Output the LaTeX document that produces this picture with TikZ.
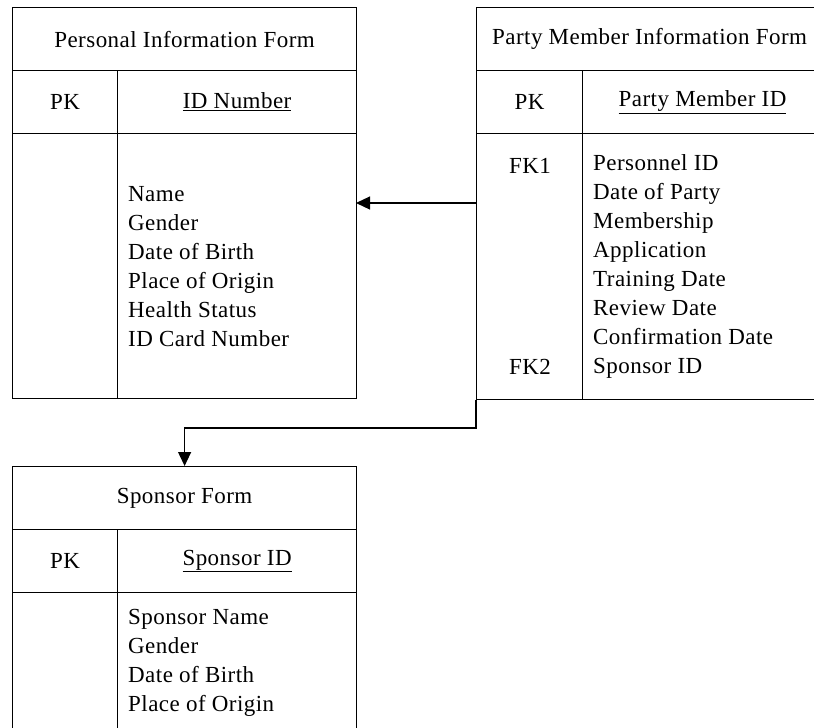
\documentclass[tikz,border=0pt]{standalone}
\usepackage{fontspec}
\setmainfont{Liberation Serif}[LetterSpace=2]
\usetikzlibrary{arrows.meta}
\begin{document}
\begin{tikzpicture}[x=1pt,y=-1pt,
  cell/.style={draw, line width=1.2pt, inner sep=0pt, anchor=north west,
    font=\fontsize{23pt}{29pt}\selectfont},
  txt/.style={inner sep=0pt, align=left, font=\fontsize{23pt}{29pt}\selectfont},
  conn/.style={line width=1.2pt},
  tip/.style={-{Triangle[length=14pt,width=13pt]}}]
\clip (0,0) rectangle (814,728);
% Personal Information Form
\node[cell, minimum width=344pt, minimum height=63pt] (p-head) at (12,7) {Personal Information Form};
\node[cell, minimum width=105pt, minimum height=63pt] (p-pk) at (12,70) {PK};
\node[cell, minimum width=239pt, minimum height=63pt] (p-id) at (117,70) {\underline{ID Number}};
\node[cell, minimum width=105pt, minimum height=265pt] (p-bl) at (12,133) {};
\node[cell, minimum width=239pt, minimum height=265pt] (p-br) at (117,133) {};
\node[txt, anchor=west] (p-attr) at (128,267) {Name\\Gender\\Date of Birth\\Place of Origin\\Health Status\\ID Card Number};
% Party Member Information Form
\node[cell, minimum width=346pt, minimum height=63pt] (m-head) at (476,7) {Party Member Information Form};
\node[cell, minimum width=106pt, minimum height=63pt] (m-pk) at (476,70) {PK};
\node[cell, minimum width=240pt, minimum height=63pt] (m-id) at (582,70) {\underline{Party Member ID}};
\node[cell, minimum width=106pt, minimum height=266pt] (m-bl) at (476,133) {};
\node[cell, minimum width=240pt, minimum height=266pt] (m-br) at (582,133) {};
\node[txt] (m-fk1) at (530,166) {FK1};
\node[txt] (m-fk2) at (530,367) {FK2};
\node[txt, anchor=west] (m-attr) at (593,266.5) {Personnel ID\\Date of Party\\Membership\\Application\\Training Date\\Review Date\\Confirmation Date\\Sponsor ID};
% Sponsor Form
\node[cell, minimum width=344pt, minimum height=63pt] (s-head) at (12,466) {Sponsor Form};
\node[cell, minimum width=105pt, minimum height=63pt] (s-pk) at (12,529) {PK};
\node[cell, minimum width=239pt, minimum height=63pt] (s-id) at (117,529) {\underline{Sponsor ID}};
\node[cell, minimum width=105pt, minimum height=170pt] (s-bl) at (12,592) {};
\node[cell, minimum width=239pt, minimum height=170pt] (s-br) at (117,592) {};
\node[txt, anchor=west] (s-attr) at (128,663) {Sponsor Name\\Gender\\Date of Birth\\Place of Origin};
% connectors
\coordinate (m-out) at (476,203);
\coordinate (p-in) at (356,203);
\draw[conn, tip] (m-out) -- (p-in);
\coordinate (bend) at (476,428);
\draw[conn, tip] (m-bl.south west) -- (bend) -| (s-head.north);
\end{tikzpicture}
\end{document}
